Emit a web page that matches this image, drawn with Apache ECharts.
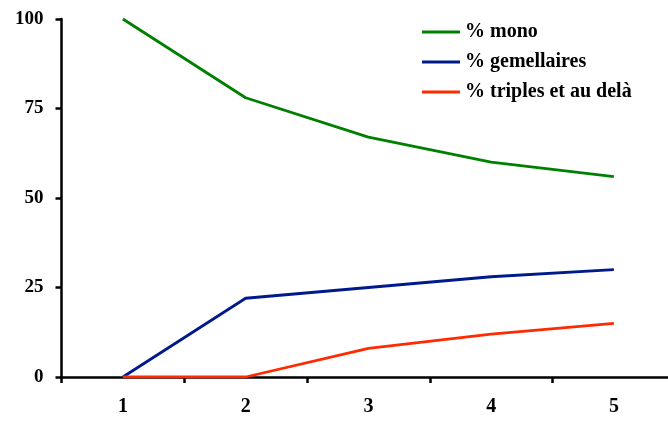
<!DOCTYPE html>
<html><head><meta charset="utf-8">
<script src="https://cdn.jsdelivr.net/npm/echarts@6/dist/echarts.min.js"></script>
<style>html,body{margin:0;padding:0;background:#fff;overflow:hidden;width:668px;height:423px}#c{width:676px;height:423px}</style>
</head><body><div id="c"></div>
<script>
const categories = ['1','2','3','4','5'];
const seriesNames = ['% mono','% gemellaires','% triples et au delà'];
const mono = [100, 78, 67, 60, 56];
const gemellaires = [0, 22, 25, 28, 30];
const triples = [0, 0, 8, 12, 15];
const yTicks = [0, 25, 50, 75, 100];
const colors = ['#008000', '#001a8c', '#ff2a00'];
const font = '"Liberation Serif", "Times New Roman", serif';
const chart = echarts.init(document.getElementById('c'), null, {renderer:'canvas'});
const mk = (name, data, color) => ({
  name, type:'line', data, symbol:'none', showSymbol:false,
  lineStyle:{color, width:2.8}, itemStyle:{color}, animation:false
});
chart.setOption({
  animation:false,
  grid:{left:61.5, right:0.75, top:19, bottom:46, containLabel:false},
  legend:{
    orient:'vertical', left:417, top:17, icon:'rect', itemWidth:38, itemHeight:3, itemGap:10,
    textStyle:{fontFamily:font, fontWeight:'bold', fontSize:20, color:'#000'},
    data:seriesNames
  },
  xAxis:{
    type:'category', data:categories, boundaryGap:true,
    axisLine:{lineStyle:{color:'#000', width:2.5}},
    axisTick:{show:true, inside:false, length:6, lineStyle:{color:'#000', width:2.5}},
    axisLabel:{fontFamily:font, fontWeight:'bold', fontSize:20, color:'#000', margin:20}
  },
  yAxis:{
    type:'value', min:yTicks[0], max:yTicks[yTicks.length-1], interval:25,
    splitLine:{show:false},
    axisLine:{show:true, lineStyle:{color:'#000', width:2.5}},
    axisTick:{show:true, length:6, lineStyle:{color:'#000', width:2.5}},
    axisLabel:{fontFamily:font, fontWeight:'bold', fontSize:19, color:'#000', margin:18}
  },
  series:[mk(seriesNames[0], mono, colors[0]), mk(seriesNames[1], gemellaires, colors[1]), mk(seriesNames[2], triples, colors[2])]
});
</script></body></html>
